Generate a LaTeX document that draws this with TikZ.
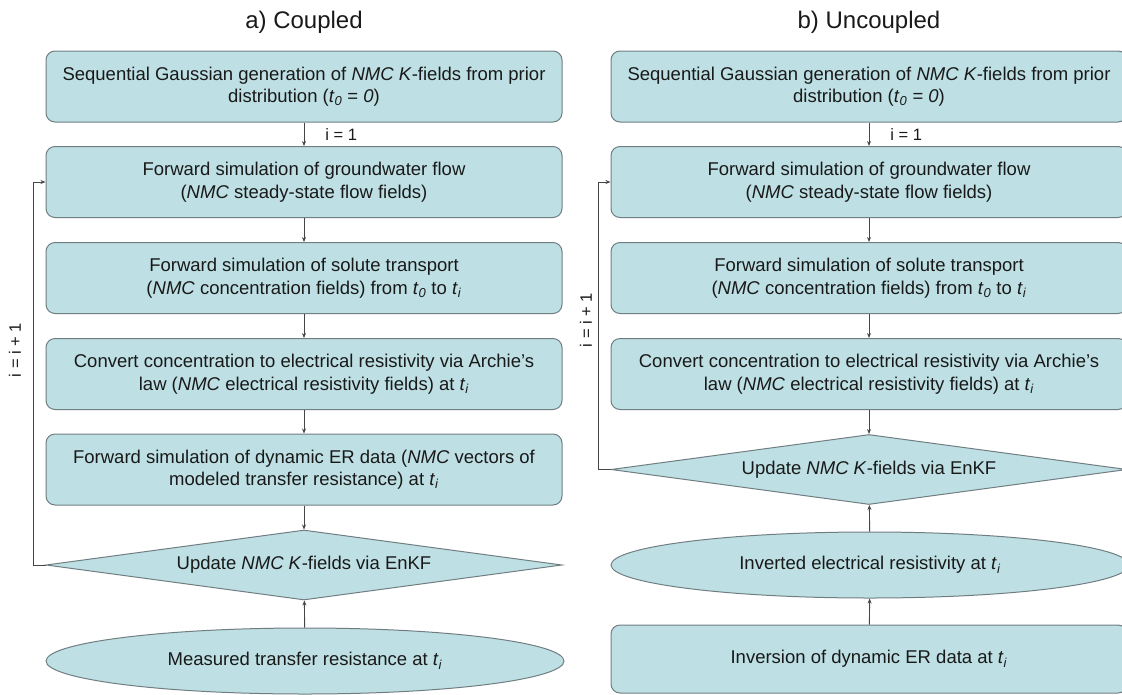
\documentclass[tikz,border=0pt]{standalone}
\usepackage{fontspec}
\setmainfont{Liberation Sans}
\usetikzlibrary{shapes.geometric,arrows.meta}
\definecolor{boxfill}{RGB}{190,224,228}
\definecolor{boxdraw}{RGB}{112,126,130}
\definecolor{linecol}{RGB}{70,70,70}
\definecolor{txt}{RGB}{25,25,25}
\newcommand{\tsub}[1]{\textit{t}\textsubscript{\textit{#1}}}
\begin{document}
\begin{tikzpicture}[x=1pt,y=-1pt,
  base/.style={fill=boxfill,draw=boxdraw,line width=1pt,text=txt,font=\fontsize{18.5}{22.5}\selectfont,align=center,inner sep=0pt},
  stepbox/.style={base,rectangle,rounded corners=9pt,minimum width=516pt,minimum height=71pt},
  decide/.style={base,diamond,aspect=7.37,minimum width=516pt,minimum height=70pt},
  datum/.style={base,ellipse,minimum width=518pt,minimum height=66pt},
  conn/.style={draw=linecol,line width=0.9pt,-{Stealth[length=5pt,width=4pt]}},
  lbl/.style={text=txt,font=\fontsize{16.5}{19}\selectfont,inner sep=0pt},
  ttl/.style={text=txt,font=\fontsize{24}{28}\selectfont,inner sep=0pt}]
\useasboundingbox (0,0) rectangle (1122,694);

% titles
\node[ttl] (ta) at (304,22) {a) Coupled};
\node[ttl] (tb) at (869,22) {b) Uncoupled};

% left column
\node[stepbox] (L1) at (304,86.5) {Sequential Gaussian generation of \textit{NMC K}-fields from prior\\distribution (\tsub{0} = \textit{0})};
\node[stepbox] (L2) at (304,182) {Forward simulation of groundwater flow\\(\textit{NMC} steady-state flow fields)};
\node[stepbox] (L3) at (304,278) {Forward simulation of solute transport\\(\textit{NMC} concentration fields) from \tsub{0} to \tsub{i}};
\node[stepbox] (L4) at (304,374) {Convert concentration to electrical resistivity via Archie's\\law (\textit{NMC} electrical resistivity fields) at \tsub{i}};
\node[stepbox] (L5) at (304,469.5) {Forward simulation of dynamic ER data (\textit{NMC} vectors of\\modeled transfer resistance) at \tsub{i}};
\node[decide] (LD) at (304,565) {Update \textit{NMC K}-fields via EnKF};
\node[datum] (LE) at (305,661) {Measured transfer resistance at \tsub{i}};

\draw[conn] (L1) -- node[lbl,anchor=west,xshift=21pt] (la) {i = 1} (L2);
\draw[conn] (L2) -- (L3);
\draw[conn] (L3) -- (L4);
\draw[conn] (L4) -- (L5);
\draw[conn] (L5) -- (LD);
\draw[conn] (LE) -- (LD);
\draw[conn] (LD.west) -- ++(-12,0) |- (L2.west);
\node[lbl,rotate=90] (lb) at (15,350) {i = i + 1};

% right column
\node[stepbox] (R1) at (869,86.5) {Sequential Gaussian generation of \textit{NMC K}-fields from prior\\distribution (\tsub{0} = \textit{0})};
\node[stepbox] (R2) at (869,182) {Forward simulation of groundwater flow\\(\textit{NMC} steady-state flow fields)};
\node[stepbox] (R3) at (869,278) {Forward simulation of solute transport\\(\textit{NMC} concentration fields) from \tsub{0} to \tsub{i}};
\node[stepbox] (R4) at (869,374) {Convert concentration to electrical resistivity via Archie's\\law (\textit{NMC} electrical resistivity fields) at \tsub{i}};
\node[decide] (RD) at (869,469.5) {Update \textit{NMC K}-fields via EnKF};
\node[datum] (RE) at (870,565) {Inverted electrical resistivity at \tsub{i}};
\node[stepbox,minimum height=68pt] (RB) at (869,659) {Inversion of dynamic ER data at \tsub{i}};

\draw[conn] (R1) -- node[lbl,anchor=west,xshift=21pt] (ra) {i = 1} (R2);
\draw[conn] (R2) -- (R3);
\draw[conn] (R3) -- (R4);
\draw[conn] (R4) -- (RD);
\draw[conn] (RE) -- (RD);
\draw[conn] (RB) -- (RE);
\draw[conn] (RD.west) -- ++(-12,0) |- (R2.west);
\node[lbl,rotate=90] (rb) at (586,320) {i = i + 1};
\end{tikzpicture}
\end{document}
